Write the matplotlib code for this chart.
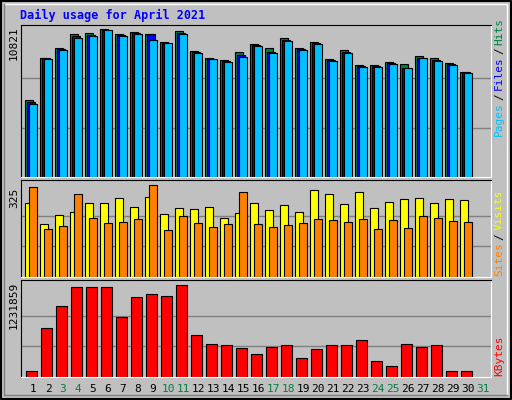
import numpy as np
import matplotlib.pyplot as plt

days = np.arange(1, 31)
day_labels = [str(d) for d in range(1, 32)]
weekend_days = [3, 4, 10, 11, 17, 18, 24, 25, 31]

hits = [5630, 8700, 9430, 10450, 10530, 10821, 10450, 10600, 10450, 9870,
        10670, 9210, 8700, 8550, 9140, 9720, 9430, 10160, 9430, 9870,
        8630, 9280, 8190, 8190, 8410, 8260, 8850, 8700, 8330, 7680]
files = [5480, 8700, 9360, 10310, 10380, 10750, 10380, 10530, 10450, 9800,
         10530, 9140, 8630, 8480, 8920, 9650, 9140, 10020, 9360, 9800,
         8550, 9140, 8110, 8110, 8330, 7970, 8700, 8550, 8260, 7680]
pages = [5340, 8630, 9280, 10160, 10310, 10750, 10310, 10450, 10020, 9800,
         10450, 9060, 8630, 8410, 8770, 9580, 9060, 9940, 9280, 9720,
         8480, 9060, 8040, 8040, 8260, 7970, 8700, 8480, 8190, 7600]
visits = [261, 187, 219, 230, 261, 261, 279, 247, 283, 223,
          244, 240, 247, 208, 226, 261, 237, 254, 230, 307,
          293, 258, 300, 244, 265, 276, 279, 261, 276, 272]
sites = [318, 170, 180, 293, 208, 191, 194, 205, 325, 166,
         215, 191, 177, 187, 300, 187, 177, 184, 191, 205,
         201, 194, 205, 170, 201, 173, 215, 208, 198, 194]
kbytes = [85000, 660000, 955000, 1209000, 1209000, 1209000, 808000, 1076000, 1116000, 1089000,
          1231859, 567000, 446000, 433000, 393000, 312000, 406000, 433000, 259000, 379000,
          433000, 433000, 500000, 219000, 152000, 446000, 406000, 433000, 85000, 85000]

W, H = 512, 400
fig = plt.figure(figsize=(5.12, 4.0), dpi=100, facecolor='#c0c0c0')
mono = 'DejaVu Sans Mono'


def panel(y_top, y_bot):
    ax = fig.add_axes([21 / W, 1 - y_bot / H, (491 - 21) / W, (y_bot - y_top) / H])
    ax.set_facecolor('#c0c0c0')
    ax.set_xlim(1 - 4 / 15, 1 + 466 / 15)
    ax.set_xticks([])
    ax.set_yticks([])
    for s in ['left', 'top']:
        ax.spines[s].set_color('black')
    for s in ['right', 'bottom']:
        ax.spines[s].set_color('white')
    return ax


# frame
bg = fig.add_axes([0, 0, 1, 1])
bg.set_xlim(0, W)
bg.set_ylim(H, 0)
bg.axis('off')
bg.plot([1, W - 1, W - 1, 1, 1], [1, 1, H - 1, H - 1, 1], color='black', lw=1.5)
bg.plot([4, W - 5, W - 5], [4, 4, H - 5], color='white', lw=1)
bg.plot([4, 4, W - 5], [4, H - 5, H - 5], color='#808080', lw=1)
bg.text(20, 15, 'Daily usage for April 2021', color='#0000ff', fontsize=8.5,
        fontweight='bold', family=mono, va='center', ha='left')

edge = dict(edgecolor='black', linewidth=0.8, align='edge')

# hits / files / pages
ax1 = panel(25, 177)
ax1.set_ylim(0, 152 * 73.1)
for g in [10821 / 3, 10821 * 2 / 3]:
    ax1.axhline(g, color='#808080', lw=1, zorder=0)
ax1.bar(days, hits, 0.53, color='#008040', **edge)
ax1.bar(days + 0.133, files, 0.53, color='#0000ff', **edge)
ax1.bar(days + 0.266, pages, 0.53, color='#00c0ff', **edge)

# visits / sites
ax2 = panel(180, 277)
ax2.set_ylim(0, 325 * 97 / 92)
for g in [325 / 3, 325 * 2 / 3]:
    ax2.axhline(g, color='#808080', lw=1, zorder=0)
ax2.bar(days, visits, 0.53, color='#ffff00', **edge)
ax2.bar(days + 0.27, sites, 0.5, color='#ff8000', **edge)

# kbytes
ax3 = panel(280, 377)
ax3.set_ylim(0, 1231859 * 97 / 92)
for g in [1231859 / 3, 1231859 * 2 / 3]:
    ax3.axhline(g, color='#808080', lw=1, zorder=0)
ax3.bar(days + 0.09, kbytes, 0.69, color='#ff0000', **edge)

# left scale labels
for y, txt in [(43, '10821'), (198, '325'), (305, '1231859')]:
    bg.text(14, y, txt, rotation=90, fontsize=8, family=mono, ha='center', va='center')

# right legends
def vlegend(parts, y_bottom):
    y = y_bottom
    for txt, col in parts:
        t = bg.text(499, y, txt, rotation=90, fontsize=8, family=mono, color=col,
                    ha='center', va='bottom')
        y -= len(txt) * 6.6 + 3

vlegend([('Pages', '#00c0ff'), ('/', 'black'), ('Files', '#0000ff'), ('/', 'black'), ('Hits', '#008040')], 136)
vlegend([('Sites', '#ff8000'), ('/', 'black'), ('Visits', '#ffff00')], 276)
vlegend([('KBytes', '#ff0000')], 376)

# day labels
for i, lab in enumerate(day_labels):
    col = '#008040' if int(lab) in weekend_days else 'black'
    bg.text(33 + 15 * i, 389, lab, fontsize=8, family=mono, color=col, ha='center', va='center')

fig.savefig('out.png', dpi=100, facecolor=fig.get_facecolor())
